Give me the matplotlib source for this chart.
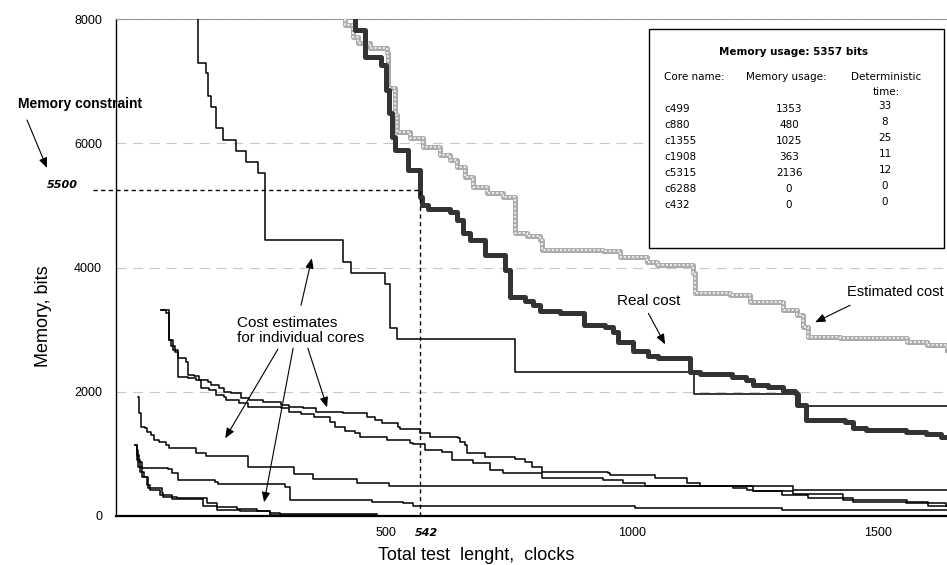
import matplotlib
matplotlib.use('Agg')
import matplotlib.pyplot as plt
from matplotlib.patches import Rectangle

plt.rcParams['font.family'] = ['Liberation Sans', 'DejaVu Sans']

# step curves (x = test length, y = memory bits)
big_x = [110, 118, 134, 138, 144, 154, 168, 195, 215, 240, 254, 412, 429, 498, 507, 522, 762, 1126, 1342, 1640]
big_y = [9000, 7288, 7127, 6757, 6580, 6242, 6049, 5872, 5695, 5517, 4447, 4089, 3912, 3742, 3027, 2850, 2314, 1959, 1771, 1771]

u_x = [42, 53, 58, 62, 70, 78, 93, 97, 110, 120, 138, 144, 160, 171, 185, 205, 221, 250, 286, 303,
       331, 358, 412, 461, 477, 492, 524, 528, 569, 589, 646, 650, 660, 665, 701, 762, 782, 797, 817, 951,
       955, 1047, 1112, 1138, 1205, 1234, 1246, 1305, 1358, 1429, 1559, 1602, 1640]
u_y = [3312, 3263, 2829, 2732, 2636, 2539, 2475, 2265, 2249, 2185, 2153, 2104, 2056, 1992, 1975, 1895, 1863, 1831, 1782, 1750,
       1734, 1670, 1654, 1589, 1541, 1492, 1428, 1396, 1331, 1267, 1251, 1187, 1138, 1009, 945, 913, 865, 784, 704, 688,
       656, 607, 526, 478, 446, 414, 398, 333, 285, 253, 221, 156, 156]

l_x = [42, 58, 66, 76, 78, 97, 114, 124, 140, 154, 171, 175, 201, 219, 286, 303, 327, 353, 386, 396,
       417, 437, 447, 502, 549, 555, 579, 614, 634, 677, 711, 738, 817, 941, 982, 1026, 1246, 1327, 1429, 1449,
       1557, 1638, 1640]
l_y = [3312, 2829, 2668, 2475, 2233, 2217, 2185, 2056, 2024, 1943, 1911, 1863, 1814, 1750, 1734, 1670, 1637, 1589, 1509, 1428,
       1364, 1331, 1267, 1219, 1170, 1154, 1058, 1026, 897, 848, 736, 688, 607, 575, 526, 478, 398, 349, 285, 221,
       204, 156, 156]

c_x = [-4, -2, 2, 9, 15, 22, 29, 39, 53, 59, 114, 134, 219, 313, 351, 440, 505, 1327, 1640]
c_y = [1911, 1653, 1428, 1412, 1348, 1299, 1219, 1187, 1138, 1090, 1009, 961, 789, 683, 602, 531, 478, 414, 414]

d_x = [-10, -6, -2, 3, 57, 64, 77, 152, 158, 295, 305, 471, 534, 555, 1006, 1305, 1640]
d_y = [1138, 977, 865, 768, 752, 687, 575, 543, 510, 462, 253, 221, 204, 156, 124, 92, 92]

e_x = [-10, -7, 0, 7, 17, 44, 47, 74, 135, 156, 196, 237, 264, 284, 482, 1640]
e_y = [1138, 897, 704, 623, 446, 365, 301, 285, 204, 140, 108, 76, 43, 25, 0, 0]

f_x = [-7, -4, 3, 13, 20, 40, 64, 128, 156, 203, 263, 482, 1640]
f_y = [1058, 789, 628, 494, 414, 333, 280, 156, 103, 76, 23, 0, 0]

real_x = [420, 437, 457, 490, 500, 506, 512, 518, 545, 569, 573, 585, 630, 644, 656, 671, 701, 742, 752, 782,
          799, 813, 854, 902, 945, 961, 972, 1002, 1033, 1053, 1118, 1138, 1203, 1232, 1246, 1276, 1307, 1331, 1335, 1354,
          1433, 1449, 1476, 1557, 1598, 1628, 1640]
real_y = [8300, 7820, 7385, 7256, 6854, 6483, 6097, 5888, 5566, 5131, 5002, 4938, 4890, 4761, 4551, 4439, 4197, 3956, 3521, 3457,
          3392, 3296, 3263, 3070, 3038, 2958, 2797, 2652, 2571, 2539, 2314, 2281, 2233, 2185, 2104, 2072, 2008, 1975, 1782, 1541,
          1509, 1412, 1380, 1348, 1315, 1267, 1267]

est_x = [396, 417, 433, 443, 467, 502, 504, 518, 522, 549, 575, 610, 630, 644, 660, 677, 705, 738, 762, 787,
         813, 817, 941, 976, 1030, 1051, 1124, 1128, 1199, 1240, 1307, 1335, 1348, 1358, 1423, 1559, 1600, 1640]
est_y = [8300, 7900, 7707, 7610, 7530, 7449, 6886, 6451, 6178, 6081, 5936, 5807, 5727, 5614, 5453, 5292, 5195, 5131, 4551, 4503,
         4439, 4278, 4262, 4165, 4085, 4036, 3907, 3585, 3553, 3441, 3312, 3231, 3038, 2877, 2861, 2797, 2748, 2668]

# constraint point as drawn, and its labels
constr_x, constr_y = 569, 5244
constr_xlabel, constr_ylabel = '542', '5500'

cores = ['c499', 'c880', 'c1355', 'c1908', 'c5315', 'c6288', 'c432']
core_mem = ['1353', '480', '1025', '363', '2136', '0', '0']
core_time = ['33', '8', '25', '11', '12', '0', '0']

W, H = 947, 565
fig = plt.figure(figsize=(W / 100, H / 100), dpi=100)
ax = fig.add_axes([116 / W, 1 - 516 / H, 1 - 116 / W, (516 - 19) / H])


def fpos(px, py):
    return px / W, 1 - py / H


ax.set_xlim(-49, 1640)
ax.set_ylim(0, 8000)

ax.plot(est_x, est_y, drawstyle='steps-post', color='#ababab', lw=3.6, zorder=3)
ax.plot(est_x, est_y, drawstyle='steps-post', color='#ebebeb', lw=1.5, ls=(0, (1, 1)), zorder=3)

for xs, ys in [(big_x, big_y), (u_x, u_y), (l_x, l_y), (c_x, c_y), (d_x, d_y), (e_x, e_y), (f_x, f_y)]:
    ax.plot(xs, ys, drawstyle='steps-post', color='black', lw=1.1, zorder=4)

ax.plot(real_x, real_y, drawstyle='steps-post', color='#333333', lw=3.6, zorder=5)

# memory constraint
ax.plot([-96, constr_x], [constr_y, constr_y], color='black', lw=1, ls=(0, (3, 2.5)), clip_on=False, zorder=6)
ax.plot([constr_x, constr_x], [0, constr_y], color='black', lw=1, ls=(0, (3, 2.5)), zorder=6)

ax.set_yticks([0, 2000, 4000, 6000, 8000])
ax.set_xticks([500, 1000, 1500])
ax.tick_params(length=0, labelsize=9)
ax.tick_params(axis='y', pad=10)
ax.tick_params(axis='x', pad=8)
ax.yaxis.grid(True, color='#c8c8c8', ls=(0, (9, 6)), lw=0.8)
ax.set_axisbelow(True)

ax.spines['right'].set_visible(False)
ax.spines['top'].set_color('#999999')
ax.spines['left'].set_linewidth(1)
ax.spines['bottom'].set_linewidth(1.6)

ax.text(583, -0.034, constr_xlabel, transform=ax.get_xaxis_transform(), ha='center', va='center',
        fontsize=8, fontweight='bold', fontstyle='italic', family='DejaVu Sans')
fig.text(*fpos(62, 185), constr_ylabel, ha='center', va='center', fontsize=8,
         fontweight='bold', fontstyle='italic', family='DejaVu Sans')
fig.text(*fpos(80, 104), 'Memory constraint', ha='center', va='center', fontsize=10, fontweight='bold')

arrow = dict(arrowstyle='-|>,head_length=0.6,head_width=0.25', color='black', lw=0.8, shrinkA=0, shrinkB=0)
ax.annotate('', xy=fpos(47, 168), xytext=fpos(27, 120), xycoords='figure fraction',
            textcoords='figure fraction', arrowprops=arrow, annotation_clip=False)

fig.text(*fpos(476, 555), 'Total test  lenght,  clocks', ha='center', va='center', fontsize=13)
fig.text(*fpos(43, 316), 'Memory, bits', ha='center', va='center', rotation=90, fontsize=13)

# annotations on the curves
ax.text(196, 2990, 'Cost estimates\nfor individual cores', ha='left', va='center', fontsize=11, linespacing=1.05)
for tail, head in [((327, 3392), (349, 4149)), ((280, 2684), (173, 1251)),
                   ((311, 2700), (252, 221)), ((341, 2700), (380, 1750))]:
    ax.annotate('', xy=head, xytext=tail, arrowprops=arrow)

ax.text(1033, 3457, 'Real cost', ha='center', va='center', fontsize=11)
ax.annotate('', xy=(1067, 2764), xytext=(1033, 3263), arrowprops=arrow)

ax.text(1437, 3602, 'Estimated cost', ha='left', va='center', fontsize=10.5, clip_on=False)
ax.annotate('', xy=(1372, 3119), xytext=(1443, 3392), arrowprops=arrow)

# result box
box = Rectangle(fpos(649, 248), 295 / W, 219 / H, transform=fig.transFigure,
                facecolor='white', edgecolor='black', lw=1, zorder=10)
fig.add_artist(box)
bf = dict(family='DejaVu Sans', fontsize=7.5, zorder=11)
fig.text(*fpos(794, 52), 'Memory usage: 5357 bits', ha='center', va='center', fontweight='bold', **bf)
fig.text(*fpos(664, 77), 'Core name:', ha='left', va='center', **bf)
fig.text(*fpos(746, 77), 'Memory usage:', ha='left', va='center', **bf)
fig.text(*fpos(886, 77), 'Deterministic', ha='center', va='center', **bf)
fig.text(*fpos(886, 92), 'time:', ha='center', va='center', **bf)
for i, (name, mem, t) in enumerate(zip(cores, core_mem, core_time)):
    y = 109 + 16 * i
    fig.text(*fpos(664, y), name, ha='left', va='center', **bf)
    fig.text(*fpos(789, y), mem, ha='center', va='center', **bf)
    fig.text(*fpos(885, y - 3), t, ha='center', va='center', **bf)

fig.savefig('out.png', dpi=100)
